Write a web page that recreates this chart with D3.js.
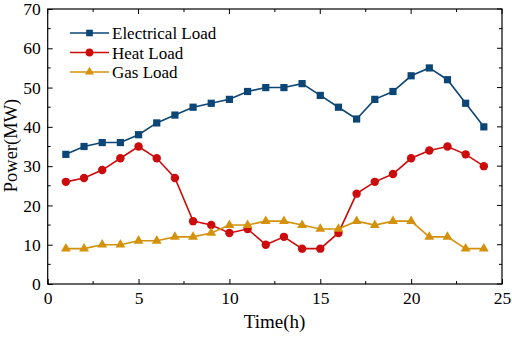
<!DOCTYPE html>
<html><head><meta charset="utf-8">
<script src="https://cdn.jsdelivr.net/npm/d3@7"></script>
<style>body{margin:0;background:#fff}svg{display:block}text{font-family:"Liberation Serif","Times New Roman",serif}</style>
</head><body>
<svg id="c" width="512" height="337"></svg>
<script>
const hours = d3.range(1, 25);
const electrical = [33,35,36,36,38,41,43,45,46,47,49,50,50,51,48,45,42,47,49,53,55,52,46,40];
const heat = [26,27,29,32,35,32,27,16,15,13,14,10,12,9,9,13,23,26,28,32,34,35,33,30];
const gas = [9,9,10,10,11,11,12,12,13,15,15,16,16,15,14,14,16,15,16,16,12,12,9,9];
const seriesNames = ["Electrical Load","Heat Load","Gas Load"];
const xTicks = [0,5,10,15,20,25];
const yTicks = [0,10,20,30,40,50,60,70];

const colors = ["#0b4677","#cc0c0c","#d4920c"];
const shapes = [d3.symbolSquare, d3.symbolCircle, d3.symbolTriangle];
const sizes = [52, 56, 42];
const data = [electrical, heat, gas];

const svg = d3.select("#c");
const L = 47.7, R = 502, T = 9, B = 284;
const x = d3.scaleLinear().domain([0,25]).range([L,R]);
const y = d3.scaleLinear().domain([0,70]).range([B,T]);

// frame
svg.append("rect").attr("x",L).attr("y",T).attr("width",R-L).attr("height",B-T)
  .attr("fill","none").attr("stroke","#000").attr("stroke-width",1.2);

const minorX = d3.range(0,25.1,2.5), minorY = d3.range(0,70.1,5);
// bottom axis
const gx = svg.append("g").attr("transform",`translate(0,${B})`)
  .call(d3.axisBottom(x).tickValues(xTicks).tickSize(-5).tickPadding(8).tickFormat(d3.format("d")));
gx.select(".domain").remove();
gx.selectAll("text").attr("font-size",17.5).attr("fill","#000");
gx.selectAll("line").attr("stroke","#000");
svg.append("g").selectAll("line").data(minorX.filter(v=>!xTicks.includes(v))).join("line")
  .attr("x1",d=>x(d)).attr("x2",d=>x(d)).attr("y1",B).attr("y2",B-3).attr("stroke","#000");
// top mirror ticks
svg.append("g").selectAll("line").data(minorX).join("line")
  .attr("x1",d=>x(d)).attr("x2",d=>x(d)).attr("y1",T).attr("y2",d=>T+(xTicks.includes(d)?5:3)).attr("stroke","#000");
// left axis
const gy = svg.append("g").attr("transform",`translate(${L},0)`)
  .call(d3.axisLeft(y).tickValues(yTicks).tickSize(-5).tickPadding(7).tickFormat(d3.format("d")));
gy.select(".domain").remove();
gy.selectAll("text").attr("font-size",17.5).attr("fill","#000");
gy.selectAll("line").attr("stroke","#000");
svg.append("g").selectAll("line").data(minorY.filter(v=>!yTicks.includes(v))).join("line")
  .attr("x1",L).attr("x2",L+3).attr("y1",d=>y(d)).attr("y2",d=>y(d)).attr("stroke","#000");
// right mirror ticks
svg.append("g").selectAll("line").data(minorY).join("line")
  .attr("x1",R).attr("x2",d=>R-(yTicks.includes(d)?5:3)).attr("y1",d=>y(d)).attr("y2",d=>y(d)).attr("stroke","#000");

// titles
svg.append("text").attr("x",274.5).attr("y",328).attr("text-anchor","middle").attr("font-size",19).text("Time(h)");
svg.append("text").attr("transform",`translate(16.5,145.5) rotate(-90)`).attr("text-anchor","middle").attr("font-size",18.5).text("Power(MW)");

// series
const line = d3.line().x((d,i)=>x(hours[i])).y(d=>y(d));
data.forEach((arr,k)=>{
  svg.append("path").datum(arr).attr("d",line).attr("fill","none").attr("stroke",colors[k]).attr("stroke-width",1.6);
  svg.append("g").selectAll("path").data(arr).join("path")
    .attr("transform",(d,i)=>`translate(${x(hours[i])},${y(d)})`)
    .attr("d",d3.symbol().type(shapes[k]).size(sizes[k])).attr("fill",colors[k]);
});

// legend
const ly = [33,52.5,72];
seriesNames.forEach((n,k)=>{
  const g = svg.append("g");
  g.append("line").attr("x1",70).attr("x2",109).attr("y1",ly[k]).attr("y2",ly[k]).attr("stroke",colors[k]).attr("stroke-width",1.6);
  g.append("path").attr("transform",`translate(89.5,${ly[k]})`).attr("d",d3.symbol().type(shapes[k]).size(sizes[k]*0.85)).attr("fill",colors[k]);
  g.append("text").attr("x",112).attr("y",ly[k]+6).attr("font-size",17).text(n);
});
</script>
</body></html>
